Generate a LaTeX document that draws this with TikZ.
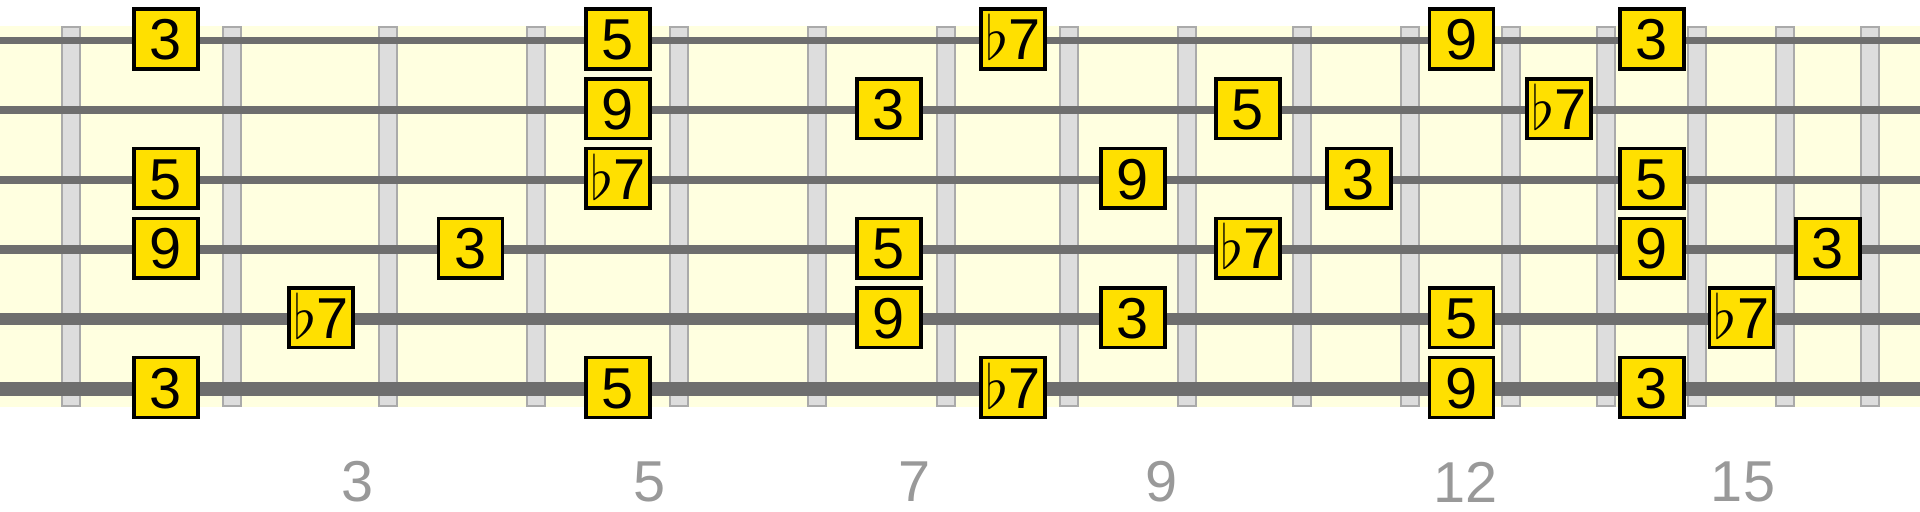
\documentclass[tikz,border=0pt]{standalone}
\usepackage{fontspec}
\setmainfont{Liberation Sans}

\definecolor{boardyellow}{RGB}{255,255,224}
\definecolor{noteyellow}{RGB}{255,224,0}
\definecolor{fretgray}{RGB}{221,221,221}
\definecolor{fretedge}{RGB}{170,170,170}
\definecolor{stringgray}{RGB}{110,110,110}
\definecolor{labelgray}{RGB}{153,153,153}

\newcommand{\flatseven}{$\flat$7}

\tikzset{
    board/.style={
        fill=boardyellow, 
        draw=none},
    fretwire/.style={
        fill=fretgray, 
        draw=fretedge, 
        line width=0.02cm},
    guitarstring/.style={
        draw=stringgray, 
        line cap=butt},
    notebox/.style={
        draw=black, 
        fill=noteyellow, 
        line width=0.035cm, 
        inner sep=0pt, 
        minimum width=0.635cm, 
        minimum height=0.595cm, 
        text height=11.8pt, 
        text depth=0pt, 
        font=\fontsize{16.4}{19}\selectfont},
    fretlabel/.style={
        text=labelgray, 
        inner sep=0pt, 
        font=\fontsize{16.4}{19}\selectfont}
}

\begin{document}
\begin{tikzpicture}[x=0.01cm, y=-0.01cm]
\useasboundingbox (0,0) rectangle (1920,511);

\path [board] (0,26) rectangle (1920,407);

% fret wires
\foreach \fx in {71, 232, 387.5, 536, 679, 817, 946, 1068.5, 1187, 1302, 1409.5, 1510.7, 1606, 1697, 1785, 1870}{
\path [fretwire] (\fx-9,27) rectangle (\fx+9,406);
}

% strings, thin to thick
\foreach \row/\w in {1/2.0pt, 2/2.15pt, 3/2.3pt, 4/2.7pt, 5/3.45pt, 6/4.0pt}{
\draw [guitarstring, line width=\w] (0,{40.5+(\row-1)*69.7}) -- (1920,{40.5+(\row-1)*69.7});
}

% chord tones: fret/x/string/degree
\foreach \sp/\xx/\row/\deg in {
    2/166/1/3, 2/166/3/5, 2/166/4/9, 2/166/6/3,
    3/321/5/\flatseven,
    4/470.5/4/3,
    5/618/1/5, 5/618/2/9, 5/618/3/\flatseven, 5/618/6/5,
    7/889/2/3, 7/889/4/5, 7/889/5/9,
    8/1013/1/\flatseven, 8/1013/6/\flatseven,
    9/1133/3/9, 9/1133/5/3,
    10/1248/2/5, 10/1248/4/\flatseven,
    11/1359/3/3,
    12/1461.5/1/9, 12/1461.5/5/5, 12/1461.5/6/9,
    13/1559/2/\flatseven,
    14/1652/1/3, 14/1652/3/5, 14/1652/4/9, 14/1652/6/3,
    15/1741.5/5/\flatseven,
    16/1828/4/3}{
\node [notebox] (note-\row-\sp) at (\xx,{39+(\row-1)*69.7}) {\deg};
}

% position markers
\foreach \lx/\num in {358/3, 650/5, 915/7, 1161.5/9, 1465.5/12, 1743/15}{
\node [fretlabel] (label-\num) at (\lx,482) {\num};
}

\end{tikzpicture}
\end{document}
